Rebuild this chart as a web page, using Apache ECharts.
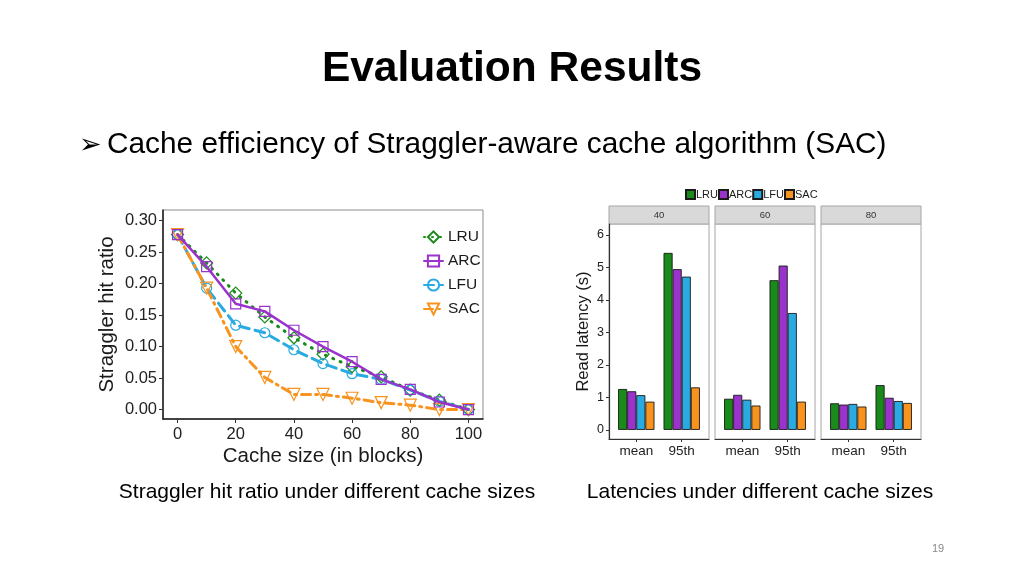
<!DOCTYPE html>
<html>
<head>
<meta charset="utf-8">
<script src="https://cdn.jsdelivr.net/npm/echarts@6/dist/echarts.min.js"></script>
<style>
html,body{margin:0;padding:0;background:#fff;}
#main{width:1024px;height:576px;}
</style>
</head>
<body>
<div id="main"></div>
<script>
// ---------- data ----------
const algoNames = ['LRU', 'ARC', 'LFU', 'SAC'];
const hitX = [0, 10, 20, 30, 40, 50, 60, 70, 80, 90, 100];
const hitLRU = [0.278, 0.233, 0.185, 0.147, 0.114, 0.088, 0.068, 0.052, 0.031, 0.015, 0.000];
const hitARC = [0.278, 0.227, 0.168, 0.156, 0.126, 0.100, 0.076, 0.048, 0.032, 0.012, 0.000];
const hitLFU = [0.278, 0.193, 0.134, 0.122, 0.095, 0.073, 0.057, 0.048, 0.031, 0.013, 0.000];
const hitSAC = [0.278, 0.193, 0.100, 0.051, 0.024, 0.024, 0.018, 0.011, 0.007, 0.000, 0.000];
const hitYTicks = [0, 0.05, 0.10, 0.15, 0.20, 0.25, 0.30];
const hitXTicks = [0, 20, 40, 60, 80, 100];

const cacheSizes = ['40', '60', '80'];
const latCats = ['mean', '95th'];
// per cache size: [mean, 95th]
const latLRU = [[1.26, 5.45], [0.96, 4.61], [0.82, 1.38]];
const latARC = [[1.19, 4.95], [1.08, 5.06], [0.78, 0.99]];
const latLFU = [[1.07, 4.72], [0.93, 3.60], [0.80, 0.89]];
const latSAC = [[0.87, 1.31], [0.75, 0.87], [0.72, 0.83]];
const latYTicks = [0, 1, 2, 3, 4, 5, 6];

// ---------- styles ----------
const FONT = 'Liberation Sans, Arial, sans-serif';
const NARROW = 'Liberation Sans Narrow, Liberation Sans, Arial, sans-serif';
const colors = ['#1a8a1a', '#9933cc', '#29abe2', '#f7931e'];
const lineTypes = [[1, 7], 'solid', [10, 6], [9, 5, 2, 5]];
const lineWidths = [3, 2.5, 3, 3];
const symbols = ['diamond', 'rect', 'circle', 'triangle'];
const symbolSizes = [12, 10, 10, 12];
const symbolRot = [0, 0, 0, 180];
const hitData = [hitLRU, hitARC, hitLFU, hitSAC];
const latData = [latLRU, latARC, latLFU, latSAC];

const panelL = [609, 715, 821];
const panelW = 100, panelTop = 224, panelH = 215;

const chart = echarts.init(document.getElementById('main'), null, {renderer: 'canvas'});

const grids = [{left: 163, top: 210, width: 320, height: 209, show: true, borderColor: '#8c8c8c', borderWidth: 1}];
const xAxes = [{
  gridIndex: 0, type: 'value', min: -5, max: 105,
  name: 'Cache size (in blocks)', nameLocation: 'middle', nameGap: 27,
  nameTextStyle: {fontSize: 20.5, color: '#1a1a1a', fontFamily: FONT},
  axisLine: {show: true, onZero: false, lineStyle: {color: '#1a1a1a', width: 1.5}},
  axisTick: {show: true, length: 4, customValues: hitXTicks, lineStyle: {color: '#333'}},
  axisLabel: {customValues: hitXTicks, fontSize: 16.5, color: '#222', fontFamily: FONT, margin: 7},
  splitLine: {show: false}
}];
const yAxes = [{
  gridIndex: 0, type: 'value', min: -0.015, max: 0.317,
  name: 'Straggler hit ratio', nameLocation: 'middle', nameGap: 45,
  nameTextStyle: {fontSize: 20.5, color: '#1a1a1a', fontFamily: FONT},
  axisLine: {show: true, onZero: false, lineStyle: {color: '#1a1a1a', width: 1.5}},
  axisTick: {show: true, length: 4, customValues: hitYTicks, lineStyle: {color: '#333'}},
  axisLabel: {customValues: hitYTicks, fontSize: 16.5, color: '#222', fontFamily: FONT, margin: 6,
    formatter: v => v.toFixed(2)},
  splitLine: {show: false}
}];

const series = [];
algoNames.forEach((n, a) => {
  series.push({
    type: 'line', name: n, xAxisIndex: 0, yAxisIndex: 0,
    data: hitX.map((x, i) => [x, hitData[a][i]]),
    symbol: symbols[a], symbolSize: symbolSizes[a], symbolRotate: symbolRot[a],
    showAllSymbol: true,
    lineStyle: {color: colors[a], width: lineWidths[a], type: lineTypes[a], cap: 'round'},
    itemStyle: {color: 'rgba(255,255,255,0)', borderColor: colors[a], borderWidth: 1.2},
    z: 3 + (a === 1 ? 1 : 0)
  });
});

cacheSizes.forEach((cs, p) => {
  grids.push({left: panelL[p], top: panelTop, width: panelW, height: panelH, show: true,
    borderColor: '#a6a6a6', borderWidth: 1});
  xAxes.push({
    gridIndex: p + 1, type: 'value', min: 0.4, max: 2.6,
    axisLine: {show: true, onZero: false, lineStyle: {color: '#333', width: 1.2}},
    axisTick: {show: true, length: 3, customValues: [1, 2], lineStyle: {color: '#333'}},
    axisLabel: {customValues: [1, 2], formatter: v => latCats[Math.round(v) - 1],
      fontSize: 13.5, color: '#222', fontFamily: FONT, margin: 5},
    splitLine: {show: false}
  });
  yAxes.push({
    gridIndex: p + 1, type: 'value', min: -0.28, max: 6.34,
    name: p === 0 ? 'Read latency (s)' : '', nameLocation: 'middle', nameGap: 17,
    nameTextStyle: {fontSize: 16.5, color: '#1a1a1a', fontFamily: FONT},
    axisLine: {show: p === 0, onZero: false, lineStyle: {color: '#333', width: 1.2}},
    axisTick: {show: p === 0, length: 3, customValues: latYTicks, lineStyle: {color: '#333'}},
    axisLabel: {show: p === 0, customValues: latYTicks, fontSize: 12.5, color: '#222', fontFamily: FONT, margin: 5},
    splitLine: {show: false}
  });
  algoNames.forEach((n, a) => {
    series.push({
      type: 'bar', name: n + '_bar', xAxisIndex: p + 1, yAxisIndex: p + 1,
      data: latCats.map((c, i) => [i + 1, latData[a][p][i]]),
      barWidth: 9.1, barGap: '0%',
      itemStyle: {color: colors[a], borderColor: '#1a1a1a', borderWidth: 0.9}
    });
  });
});

const graphics = [];
cacheSizes.forEach((cs, p) => {
  graphics.push({type: 'rect', shape: {x: panelL[p], y: 206, width: panelW, height: 18},
    style: {fill: '#d9d9d9', stroke: '#a6a6a6', lineWidth: 1}, silent: true});
  graphics.push({type: 'text', x: panelL[p] + panelW / 2, y: 215, silent: true,
    style: {text: cs, fill: '#333', font: '9.5px ' + FONT, textAlign: 'center', textVerticalAlign: 'middle'}});
});
graphics.push({type: 'text', x: 512, y: 69, silent: true,
  style: {text: 'Evaluation Results', fill: '#000', font: 'bold 42.5px ' + FONT, textAlign: 'center', textVerticalAlign: 'middle'}});
graphics.push({type: 'text', x: 79, y: 146, silent: true,
  style: {text: '\u27A2', fill: '#000', font: '27px DejaVu Sans', textAlign: 'left', textVerticalAlign: 'middle'}});
graphics.push({type: 'text', x: 107, y: 145, silent: true,
  style: {text: 'Cache efficiency of Straggler-aware cache algorithm (SAC)', fill: '#000', font: '29.8px ' + FONT, textAlign: 'left', textVerticalAlign: 'middle'}});
graphics.push({type: 'text', x: 327, y: 492, silent: true,
  style: {text: 'Straggler hit ratio under different cache sizes', fill: '#000', font: '21px ' + FONT, textAlign: 'center', textVerticalAlign: 'middle'}});
graphics.push({type: 'text', x: 760, y: 492, silent: true,
  style: {text: 'Latencies under different cache sizes', fill: '#000', font: '21px ' + FONT, textAlign: 'center', textVerticalAlign: 'middle'}});
graphics.push({type: 'text', x: 938, y: 549, silent: true,
  style: {text: '19', fill: '#888', font: '11px ' + FONT, textAlign: 'center', textVerticalAlign: 'middle'}});

chart.setOption({
  animation: false,
  backgroundColor: '#ffffff',
  grid: grids,
  xAxis: xAxes,
  yAxis: yAxes,
  legend: [{
    data: algoNames, orient: 'vertical', left: 418, top: 224,
    itemWidth: 19, itemHeight: 14, itemGap: 8,
    textStyle: {fontSize: 15.5, color: '#1a1a1a', fontFamily: FONT, lineHeight: 16}
  }, {
    data: algoNames.map(n => n + '_bar'), orient: 'horizontal', left: 680, top: 184,
    icon: 'rect', itemWidth: 9, itemHeight: 9, itemGap: 0,
    formatter: name => name.replace('_bar', ''),
    textStyle: {fontSize: 11, color: '#1a1a1a', fontFamily: NARROW, padding: [0, 0, 0, -4]}
  }],
  graphic: graphics,
  series: series
});
</script>
</body>
</html>
